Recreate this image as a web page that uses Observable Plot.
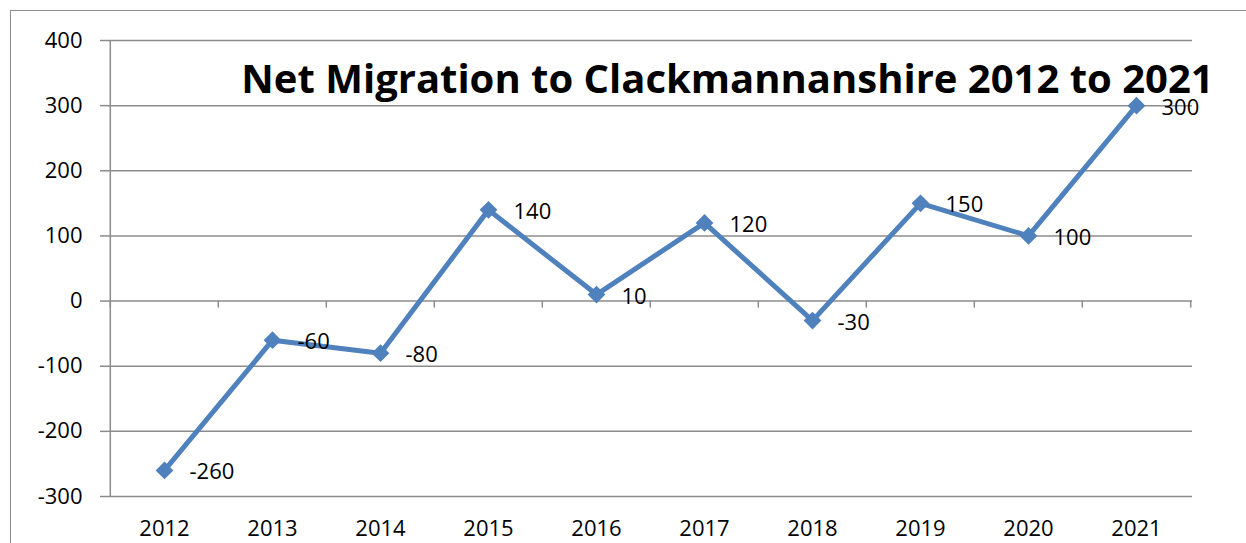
<!DOCTYPE html>
<html>
<head>
<meta charset="utf-8">
<script src="https://cdn.jsdelivr.net/npm/d3@7"></script>
<script src="https://cdn.jsdelivr.net/npm/@observablehq/plot@0.6"></script>
<style>
  html, body { margin: 0; padding: 0; background: #fff; }
  #wrap { position: relative; width: 1246px; height: 543px; overflow: hidden; }
  #border { position: absolute; left: 10px; top: 10px; width: 1300px; height: 600px; border-left: 1.5px solid #8c8c8c; border-top: 1.5px solid #8c8c8c; pointer-events: none; }
  #chart { position: absolute; left: 0; top: 0; }
</style>
</head>
<body>
<div id="wrap"><div id="border"></div><div id="chart"></div></div>
<script>
const years = ["2012","2013","2014","2015","2016","2017","2018","2019","2020","2021"];
const netMigration = [-260, -60, -80, 140, 10, 120, -30, 150, 100, 300];
const yTicks = [-300, -200, -100, 0, 100, 200, 300, 400];
const title = "Net Migration to Clackmannanshire 2012 to 2021";

const data = years.map((y, i) => ({year: y, value: netMigration[i]}));
const W = 1246, H = 543, mL = 108, mR = 54, mT = 40, mB = 47;
const bw = (W - mL - mR) / years.length;
const font = "'Open Sans', sans-serif";
const grey = "#8c8c8c";
const blue = "#4F81BD";

const chart = Plot.plot({
  width: W, height: H,
  marginLeft: mL, marginRight: mR, marginTop: mT, marginBottom: mB,
  style: {fontFamily: font, fontSize: "22px", color: "#000", background: "transparent"},
  x: {type: "band", domain: years, padding: 0, align: 0.5, label: null},
  y: {domain: [-300, 400], label: null},
  marks: [
    Plot.gridY(yTicks, {stroke: grey, strokeOpacity: 1, strokeWidth: 1.5}),
    Plot.ruleX([years[0]], {dx: -bw / 2, y1: -300, y2: 400, stroke: grey, strokeWidth: 1.5}),
    Plot.ruleX(years, {dx: -bw / 2, y1: 0, y2: 0, insetBottom: -7, stroke: grey, strokeWidth: 1.5}),
    Plot.ruleX([years[years.length - 1]], {dx: bw / 2, y1: 0, y2: 0, insetBottom: -7, stroke: grey, strokeWidth: 1.5}),
    Plot.axisY(yTicks, {tickSize: 8, tickPadding: 18, stroke: grey, strokeWidth: 1.5, fontSize: 22, fill: "#000", tickFormat: (d) => String(d)}),
    Plot.axisX({tickSize: 0, tickPadding: 24, fontSize: 22, fill: "#000"}),
    Plot.line(data, {x: "year", y: "value", stroke: blue, strokeWidth: 5}),
    Plot.dot(data, {x: "year", y: "value", symbol: "diamond2", r: 8, fill: blue, stroke: null}),
    Plot.text(data, {x: "year", y: "value", text: (d) => String(d.value), textAnchor: "start", dx: 25, dy: 2, fontSize: 22, fill: "#000"}),
    Plot.text([title], {frameAnchor: "top", dx: 77, dy: 40, lineAnchor: "middle", fontSize: 40, fontWeight: "bold", fill: "#000"})
  ]
});
document.getElementById("chart").appendChild(chart);
</script>
</body>
</html>
